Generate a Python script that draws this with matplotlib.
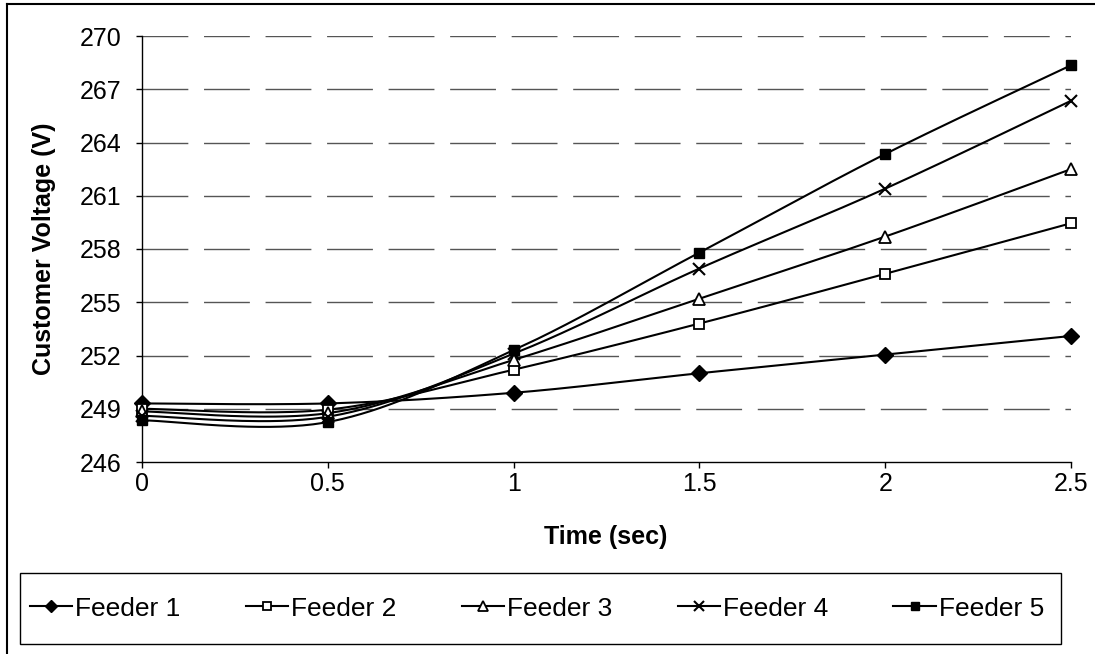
import numpy as np
import matplotlib
matplotlib.use("Agg")
import matplotlib.pyplot as plt
from matplotlib.lines import Line2D

plt.rcParams['font.family'] = ['Liberation Sans', 'DejaVu Sans']

time = [0, 0.5, 1, 1.5, 2, 2.5]
feeder1 = [249.3, 249.3, 249.9, 251.0, 252.05, 253.1]
feeder2 = [249.0, 248.95, 251.2, 253.8, 256.6, 259.45]
feeder3 = [248.85, 248.75, 251.75, 255.2, 258.7, 262.5]
feeder4 = [248.6, 248.55, 252.1, 256.9, 261.4, 266.35]
feeder5 = [248.35, 248.25, 252.3, 257.8, 263.35, 268.35]
names = ["Feeder 1", "Feeder 2", "Feeder 3", "Feeder 4", "Feeder 5"]
series = [feeder1, feeder2, feeder3, feeder4, feeder5]
yticks = [246, 249, 252, 255, 258, 261, 264, 267, 270]
xticks = [0, 0.5, 1, 1.5, 2, 2.5]
xticklabels = ["0", "0.5", "1", "1.5", "2", "2.5"]

markers = [
    dict(marker='D', ms=8, mfc='black', mec='black'),
    dict(marker='s', ms=7.5, mfc='white', mec='black', mew=1.3),
    dict(marker='^', ms=9, mfc='white', mec='black', mew=1.3),
    dict(marker='x', ms=9, mfc='black', mec='black', mew=1.5),
    dict(marker='s', ms=7.5, mfc='black', mec='black'),
]


def smooth(x, y, n=40):
    """Excel-like smoothing: Catmull-Rom cubic Bezier through the points."""
    x = np.asarray(x, float)
    y = np.asarray(y, float)
    px, py = [], []
    m = len(x)
    for i in range(m - 1):
        x0, y0 = x[max(i - 1, 0)], y[max(i - 1, 0)]
        x1, y1 = x[i], y[i]
        x2, y2 = x[i + 1], y[i + 1]
        x3, y3 = x[min(i + 2, m - 1)], y[min(i + 2, m - 1)]
        c1x, c1y = x1 + (x2 - x0) / 6, y1 + (y2 - y0) / 6
        c2x, c2y = x2 - (x3 - x1) / 6, y2 - (y3 - y1) / 6
        u = np.linspace(0, 1, n)
        bx = (1-u)**3*x1 + 3*(1-u)**2*u*c1x + 3*(1-u)*u**2*c2x + u**3*x2
        by = (1-u)**3*y1 + 3*(1-u)**2*u*c1y + 3*(1-u)*u**2*c2y + u**3*y2
        px.extend(bx)
        py.extend(by)
    return np.array(px), np.array(py)


W, H = 1095, 654
fig = plt.figure(figsize=(W/100, H/100), dpi=100)
ax = fig.add_axes([142/W, 1-462/H, (1071-142)/W, (462-36)/H])

for yv in yticks[1:]:
    ax.axhline(yv, color='#555555', lw=1, linestyle=(0, (33, 11.3)), zorder=1)

for s, mk in zip(series, markers):
    sx, sy = smooth(time, s)
    ax.plot(sx, sy, color='black', lw=1.5, zorder=3, clip_on=False)
    ax.plot(time, s, linestyle='none', zorder=4, clip_on=False, **mk)

ax.set_xlim(0, 2.5)
ax.set_ylim(246, 270)
ax.set_xticks(xticks)
ax.set_xticklabels(xticklabels)
ax.set_yticks(yticks)
for sp in ['top', 'right']:
    ax.spines[sp].set_visible(False)
for sp in ['left', 'bottom']:
    ax.spines[sp].set_linewidth(1)
    ax.spines[sp].set_color('black')
ax.tick_params(axis='y', direction='out', length=4.5, width=1, pad=10, labelsize=18)
ax.tick_params(axis='x', direction='out', length=4.5, width=1, pad=3, labelsize=18)

fig.text(606/W, 1-537/H, "Time (sec)", ha='center', va='center', fontsize=18, fontweight='bold')
fig.text(44/W, 1-249/H, "Customer Voltage (V)", ha='center', va='center', rotation=90,
         fontsize=18, fontweight='bold')

# legend box
fig.patches.append(plt.Rectangle((20/W, 1-644/H), (1061-20)/W, (644-573)/H,
                                 transform=fig.transFigure, fill=False, ec='black', lw=1))
handles = []
for n, mk in zip(names, markers):
    d = dict(mk)
    d['ms'] = d['ms'] * 0.8
    handles.append(Line2D([0], [0], color='black', lw=1.5, label=n, **d))
fig.legend(handles=handles, loc='center left', bbox_to_anchor=(30/W, 1-608.5/H),
           ncol=5, frameon=False, fontsize=19, handlelength=1.6, handletextpad=0.12,
           columnspacing=2.47, borderpad=0, borderaxespad=0)

# outer border (left and top visible)
fig.add_artist(Line2D([7/W, 7/W], [0, 1-4/H], transform=fig.transFigure, color='black', lw=1.5))
fig.add_artist(Line2D([7/W, 1], [1-4/H, 1-4/H], transform=fig.transFigure, color='black', lw=1.5))

fig.savefig("out.png", dpi=100)
